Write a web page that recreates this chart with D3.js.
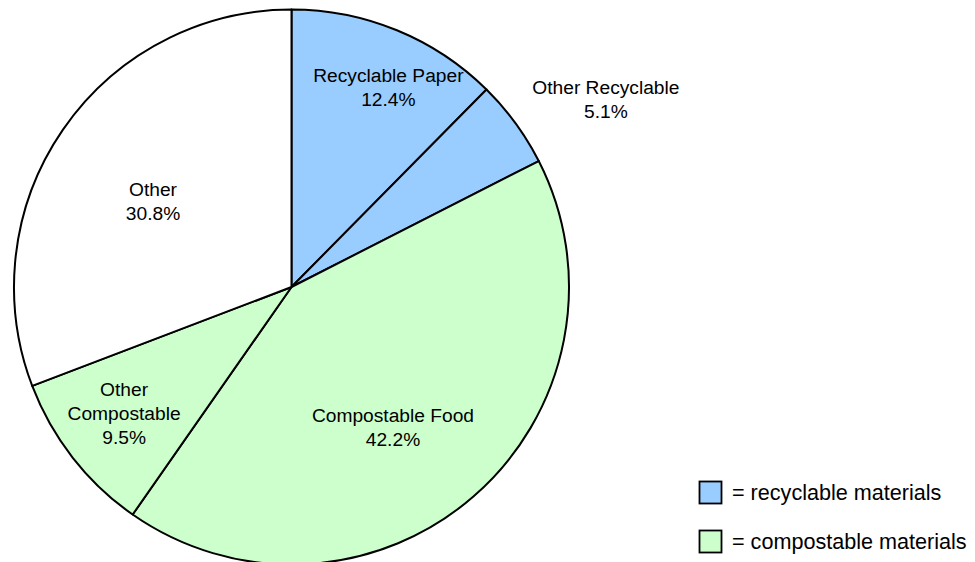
<!DOCTYPE html>
<html>
<head>
<meta charset="utf-8">
<script src="https://cdn.jsdelivr.net/npm/d3@7"></script>
<style>
  html, body { margin: 0; padding: 0; background: #fff; }
  svg { display: block; font-family: "Liberation Sans", Arial, sans-serif; }
</style>
</head>
<body>
<svg id="chart" width="975" height="562"></svg>
<script>
// ---- data ----
const categories = ["Recyclable Paper", "Other Recyclable", "Compostable Food", "Other Compostable", "Other"];
const labelLines = [["Recyclable Paper"], ["Other Recyclable"], ["Compostable Food"], ["Other", "Compostable"], ["Other"]];
const values = [12.4, 5.1, 42.2, 9.5, 30.8];
const groups = ["recyclable", "recyclable", "compostable", "compostable", "other"];
const legendGroups = ["recyclable", "compostable"];
const legendLabels = ["= recyclable materials", "= compostable materials"];

// ---- layout / style ----
const W = 975, H = 562;
const cx = 291.5, cy = 287, R = 277.5;
const colors = { recyclable: "#99ccff", compostable: "#ccffcc", other: "#ffffff" };
// label placement: [angle in degrees clockwise from 12 o'clock, distance from centre]
const labelPolar = [[25.9, 221.8], [59.1, 366.4], [144.15, 173.3], [232.9, 209.9], [301.7, 162.8]];

const svg = d3.select("#chart");
const g = svg.append("g").attr("transform", `translate(${cx},${cy})`);

const pie = d3.pie().sort(null).value(d => d);
const arc = d3.arc().innerRadius(0).outerRadius(R);
const arcs = pie(values);

g.selectAll("path.slice")
  .data(arcs)
  .join("path")
  .attr("class", "slice")
  .attr("d", arc)
  .attr("fill", (d, i) => colors[groups[i]])
  .attr("stroke", "#000")
  .attr("stroke-width", 2)
  .attr("stroke-linejoin", "round");

const lineH = 24;
arcs.forEach((d, i) => {
  const [ang, dist] = labelPolar[i];
  const a = ang * Math.PI / 180;
  const x = dist * Math.sin(a), y = -dist * Math.cos(a);
  const lines = labelLines[i].concat([values[i].toFixed(1) + "%"]);
  const n = lines.length;
  const t = g.append("text")
    .attr("text-anchor", "middle")
    .attr("font-size", 19.2)
    .attr("fill", "#000");
  lines.forEach((s, k) => {
    t.append("tspan")
      .attr("x", x)
      .attr("y", y + (k - (n - 1) / 2) * lineH)
      .attr("dy", "0.35em")
      .text(s);
  });
});

// legend
const legend = svg.append("g");
const legY = d3.scalePoint().domain(legendGroups).range([481, 530]);
legendGroups.forEach((k, i) => {
  legend.append("rect")
    .attr("x", 699.5).attr("y", legY(k) + 0.5)
    .attr("width", 22).attr("height", 22)
    .attr("fill", colors[k])
    .attr("stroke", "#000").attr("stroke-width", 1.8);
  legend.append("text")
    .attr("x", 732).attr("y", legY(k) + 11.5)
    .attr("dy", "0.35em")
    .attr("font-size", 21.6)
    .attr("fill", "#000")
    .text(legendLabels[i]);
});
</script>
</body>
</html>
